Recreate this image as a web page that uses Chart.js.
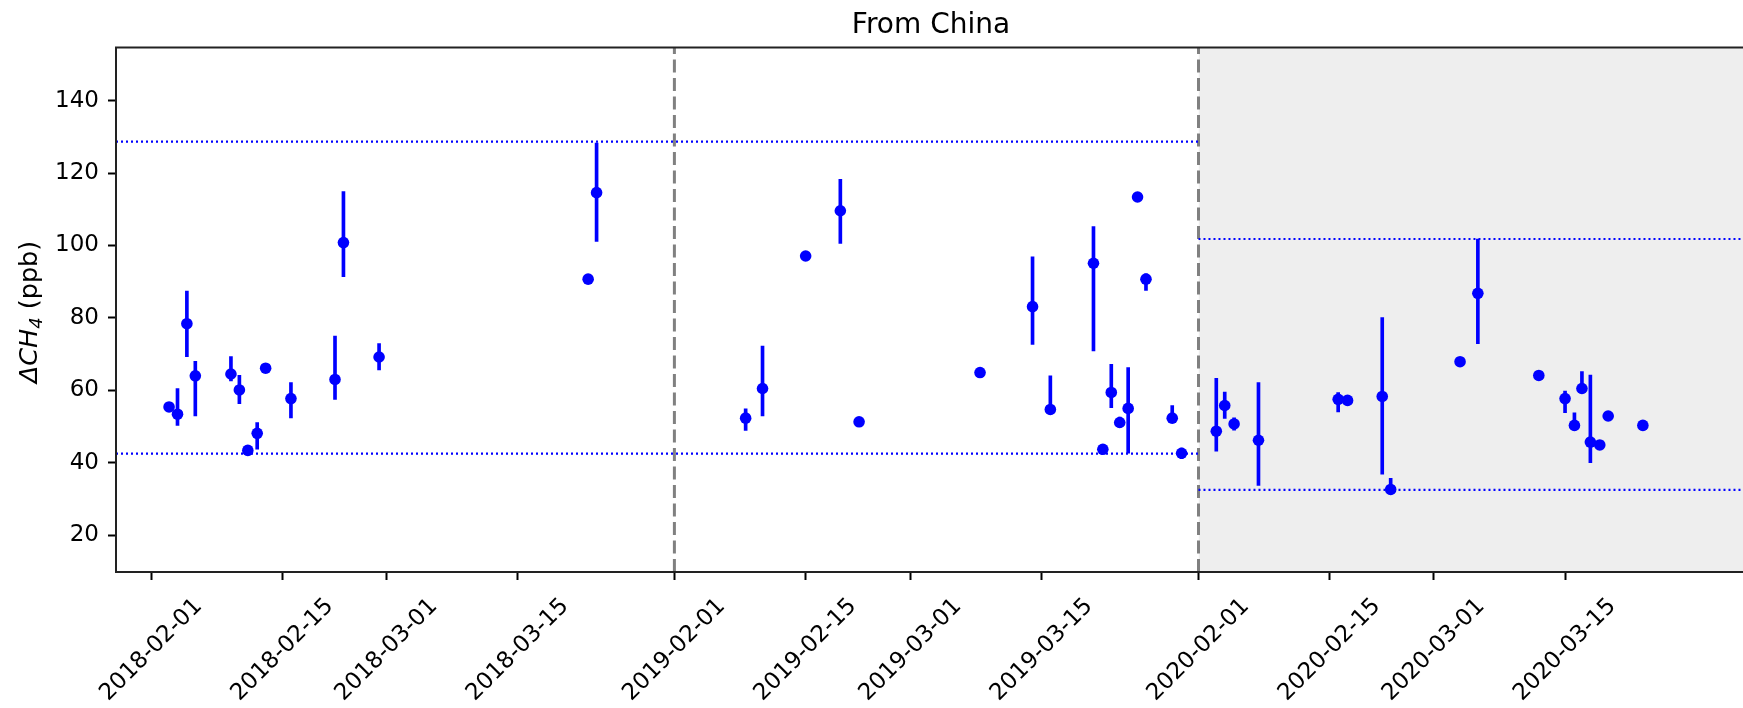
<!DOCTYPE html>
<html>
<head>
<meta charset="utf-8">
<script src="https://cdn.jsdelivr.net/npm/chart.js@4.4.0/dist/chart.umd.min.js"></script>
<style>
    html, body { margin: 0; padding: 0; background: #fff; overflow: hidden; }
    canvas { display: block; }
</style>
</head>
<body>
<canvas id="myChart" width="1760" height="708"></canvas>
<script>
// x is in "axis days" as laid out on the original figure (three seasons side by side)
const tickPositions = [0, 14, 25.1, 39.1, 55.8, 69.8, 81.0, 95.0, 111.7, 125.7, 136.8, 150.8];
const tickLabels = ['2018-02-01', '2018-02-15', '2018-03-01', '2018-03-15',
                    '2019-02-01', '2019-02-15', '2019-03-01', '2019-03-15',
                    '2020-02-01', '2020-02-15', '2020-03-01', '2020-03-15'];
const yTicks = [20, 40, 60, 80, 100, 120, 140];
const chartTitle = 'From China';

// observations: position, value, error bar low / high (null = no bar)
const obsX = [1.9, 2.8, 3.8, 4.7, 8.5, 9.4, 10.3, 11.3, 12.2, 14.9, 19.6, 20.5, 24.3, 46.6, 47.5,
              63.4, 65.2, 69.8, 73.5, 75.5, 88.4, 94.0, 95.9, 100.5, 101.5, 102.4, 103.3, 104.2, 105.2, 106.1, 108.9, 109.9,
              113.6, 114.5, 115.5, 118.1, 126.6, 127.6, 131.3, 132.2, 139.6, 141.5, 148.0, 150.8, 151.8, 152.6, 153.5, 154.5, 155.4, 159.1];
const obsY = [55.4, 53.4, 78.4, 64.0, 64.5, 60.1, 43.4, 48.1, 66.1, 57.7, 63.0, 100.8, 69.2, 90.7, 114.6,
              52.3, 60.5, 97.1, 109.6, 51.3, 64.9, 83.1, 54.7, 95.1, 43.7, 59.4, 51.1, 55.0, 113.4, 90.7, 52.3, 42.6,
              48.7, 55.8, 50.7, 46.2, 57.5, 57.2, 58.3, 32.6, 67.9, 86.8, 64.1, 57.7, 50.3, 60.5, 45.7, 44.9, 52.9, 50.3];
const errLow = [54.6, 50.3, 69.3, 52.9, 62.6, 56.3, null, 43.7, null, 52.4, 57.5, 91.4, 65.6, null, 101.1,
                48.9, 52.9, null, 100.6, null, null, 72.7, 54.7, 70.9, null, 55.2, 49.8, 42.6, null, 87.6, 52.3, 41.1,
                43.2, 52.2, 49.0, 33.7, 54.0, null, 36.8, 32.6, null, 72.9, null, 53.8, 50.3, 60.5, 40.0, null, null, null];
const errHigh = [56.3, 60.5, 87.4, 68.0, 69.3, 64.1, null, 51.1, null, 62.1, 75.0, 114.9, 72.9, null, 128.3,
                 54.9, 72.2, null, 118.3, null, null, 96.9, 64.0, 105.2, null, 67.2, 52.6, 66.3, null, 92.2, 55.8, 44.0,
                 63.3, 59.5, 52.4, 62.1, 59.4, null, 80.1, 35.7, null, 101.8, null, 59.8, 53.8, 65.2, 64.2, null, null, null];

const yearSplits = [55.8, 111.7];
const bounds1819 = [42.5, 128.7];
const bounds2020 = [32.5, 101.8];
const xRange = [-3.76, 170.1];
const yRange = [9.8, 154.7];

const FONT = '"DejaVu Sans", sans-serif';

const errData = obsX
    .map((x, i) => errLow[i] == null ? null : { x: x, y: [errLow[i], errHigh[i]] })
    .filter(Boolean);
const pointData = obsX.map((x, i) => ({ x: x, y: obsY[i] }));

const hLine = (x0, x1, y) => ({
    type: 'line',
    data: [{ x: x0, y: y }, { x: x1, y: y }],
    borderColor: '#0000ff',
    borderWidth: 2.2,
    borderDash: [2, 3],
    pointRadius: 0,
    order: 4,
});
const vLine = (x) => ({
    type: 'line',
    data: [{ x: x, y: yRange[0] }, { x: x, y: yRange[1] }],
    borderColor: '#808080',
    borderWidth: 3,
    borderDash: [13, 5.5],
    pointRadius: 0,
    order: 5,
});

// frame, title, rotated date labels and the y label
const decorPlugin = {
    id: 'decor',
    afterDatasetsDraw(chart) {
        const { ctx, chartArea: a } = chart;
        ctx.save();
        ctx.strokeStyle = '#222';
        ctx.lineWidth = 2;
        ctx.strokeRect(a.left, a.top, a.right - a.left, a.bottom - a.top);
        ctx.restore();
    },
    afterDraw(chart) {
        const { ctx, chartArea: a, scales } = chart;
        ctx.save();
        ctx.fillStyle = '#000';
        ctx.font = `28px ${FONT}`;
        ctx.textAlign = 'center';
        ctx.textBaseline = 'alphabetic';
        ctx.fillText(chartTitle, (a.left + a.right) / 2, 33);

        ctx.font = `23px ${FONT}`;
        ctx.textBaseline = 'middle';
        tickPositions.forEach((v, i) => {
            const x = scales.x.getPixelForValue(v);
            ctx.save();
            ctx.translate(x, a.bottom + 78);
            ctx.rotate(-Math.PI / 4);
            ctx.fillText(tickLabels[i], 0, 0);
            ctx.restore();
        });

        // ΔCH4 (ppb) with italic CH and subscript 4
        const parts = [
            { t: 'Δ', f: `italic 25.5px ${FONT}`, dy: 0 },
            { t: 'CH', f: `italic 25.5px ${FONT}`, dy: 0 },
            { t: '4', f: `italic 18px ${FONT}`, dy: 5 },
            { t: ' (ppb)', f: `25.5px ${FONT}`, dy: 0 },
        ];
        let total = 0;
        parts.forEach(p => { ctx.font = p.f; p.w = ctx.measureText(p.t).width; total += p.w; });
        ctx.translate(37, 312);
        ctx.rotate(-Math.PI / 2);
        ctx.textAlign = 'left';
        ctx.textBaseline = 'alphabetic';
        let u = -total / 2;
        parts.forEach(p => {
            ctx.font = p.f;
            ctx.fillText(p.t, u, p.dy);
            u += p.w;
        });
        ctx.restore();
    }
};

const ctx = document.getElementById('myChart').getContext('2d');
new Chart(ctx, {
    type: 'scatter',
    data: {
        datasets: [
            {
                type: 'line',
                data: [{ x: yearSplits[1], y: yRange[1] }, { x: xRange[1], y: yRange[1] }],
                fill: 'start',
                backgroundColor: '#eeeeee',
                borderWidth: 0,
                pointRadius: 0,
                order: 10,
            },
            vLine(yearSplits[0]),
            vLine(yearSplits[1]),
            hLine(xRange[0], yearSplits[1], bounds1819[0]),
            hLine(xRange[0], yearSplits[1], bounds1819[1]),
            hLine(yearSplits[1], xRange[1], bounds2020[0]),
            hLine(yearSplits[1], xRange[1], bounds2020[1]),
            {
                type: 'bar',
                data: errData,
                backgroundColor: '#0000ff',
                barThickness: 3,
                order: 2,
            },
            {
                type: 'scatter',
                data: pointData,
                backgroundColor: '#0000ff',
                borderWidth: 0,
                pointRadius: 5.8,
                order: 1,
            },
        ],
    },
    options: {
        responsive: false,
        animation: false,
        devicePixelRatio: 1,
        events: [],
        layout: { padding: { top: 47.5, right: 14, left: 0, bottom: 0 } },
        plugins: {
            legend: { display: false },
            tooltip: { enabled: false },
        },
        scales: {
            x: {
                type: 'linear',
                min: xRange[0],
                max: xRange[1],
                offset: false,
                afterBuildTicks: (s) => { s.ticks = tickPositions.map(v => ({ value: v })); },
                afterFit: (s) => { s.height = 708 - 572; },
                ticks: { display: false, autoSkip: false },
                grid: { offset: false, drawOnChartArea: false, drawTicks: true, tickLength: 8, tickWidth: 2, tickColor: '#000' },
                border: { display: false },
            },
            y: {
                type: 'linear',
                min: yRange[0],
                max: yRange[1],
                afterBuildTicks: (s) => { s.ticks = yTicks.map(v => ({ value: v })); },
                afterFit: (s) => { s.width = 116; },
                ticks: { font: { family: FONT, size: 23 }, color: '#000', padding: 9 },
                grid: { drawOnChartArea: false, drawTicks: true, tickLength: 8, tickWidth: 2, tickColor: '#000' },
                border: { display: false },
            },
        },
    },
    plugins: [decorPlugin],
});
</script>
</body>
</html>
